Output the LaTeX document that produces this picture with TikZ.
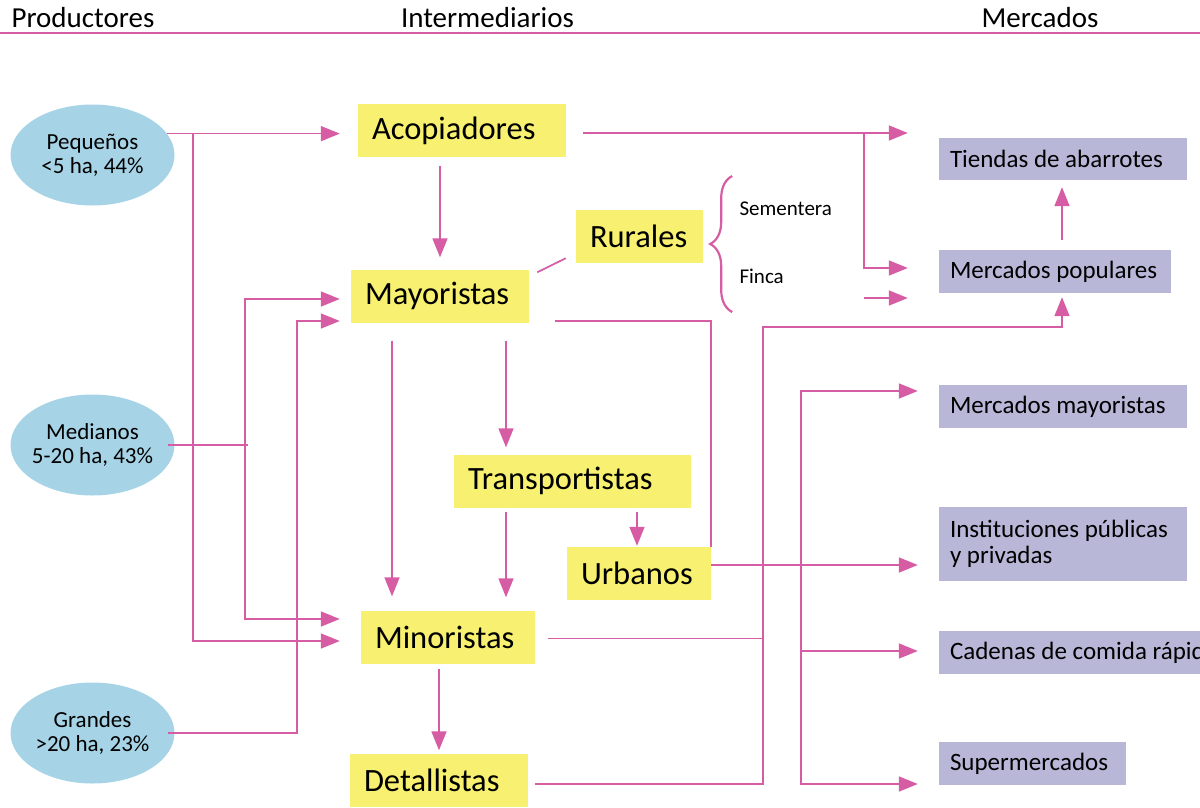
\documentclass[tikz,border=0pt]{standalone}
\usepackage{fontspec}
\setmainfont{Carlito}
\usetikzlibrary{arrows.meta,shapes.geometric,decorations.pathreplacing}
\definecolor{rosa}{RGB}{214,92,163}
\definecolor{amarillo}{RGB}{247,240,112}
\definecolor{lila}{RGB}{185,183,216}
\definecolor{celeste}{RGB}{166,212,230}
\tikzset{
  >={Triangle[length=19pt,width=15pt]},
  link/.style={draw=rosa, line width=1.7pt},
  brc/.style={draw=rosa, line width=2.2pt, decorate, decoration={brace, amplitude=22pt}},
  inter/.style={fill=amarillo, inner xsep=14pt, inner ysep=0pt, minimum height=53pt, align=flush left, font=\fontsize{32.5}{36}\selectfont},
  merc/.style={fill=lila, inner xsep=11pt, inner ysep=0pt, minimum height=43pt, align=flush left, font=\fontsize{25}{26}\selectfont},
  prod/.style={ellipse, fill=celeste, inner xsep=-4pt, inner ysep=0pt, minimum width=164pt, minimum height=101pt, align=center, font=\fontsize{23}{24}\selectfont},
  head/.style={anchor=base, font=\fontsize{29}{32}\selectfont},
  canal/.style={anchor=base west, font=\fontsize{21}{24}\selectfont},
}
\begin{document}
\begin{tikzpicture}[x=1pt,y=-1pt]
\useasboundingbox (0,0) rectangle (1200,807);
% header
\node[head,anchor=base west] (hprod) at (8,27) {Productores};
\node[head] (hint) at (487.5,27) {Intermediarios};
\node[head] (hmerc) at (1040,27) {Mercados};
\draw[rosa,line width=1.3pt] (0,33) -- (1200,33);
% productores
\node[prod] (peq) at (92.5,155) {Pequeños\\<5 ha, 44\%};
\node[prod] (med) at (92.5,445) {Medianos\\5-20 ha, 43\%};
\node[prod] (gra) at (92.5,733) {Grandes\\>20 ha, 23\%};
% intermediarios
\node[inter,text width=180pt] (acop) at (462,130.5) {Acopiadores};
\node[inter,text width=150pt] (mayo) at (440,296) {Mayoristas};
\node[inter,text width=99pt] (rur) at (639.5,236.5) {Rurales};
\node[inter,text width=209pt] (trans) at (572.5,481) {Transportistas};
\node[inter,text width=116pt] (urb) at (639,573.5) {Urbanos};
\node[inter,text width=146pt] (mino) at (448,637) {Minoristas};
\node[inter,text width=150pt] (detal) at (439,780) {Detallistas};
\node[canal] (sem) at (736,215) {Sementera};
\node[canal] (fin) at (736,283) {Finca};
% mercados
\node[merc,text width=226pt,minimum height=42pt] (tiendas) at (1063,159) {Tiendas de abarrotes};
\node[merc,text width=210pt] (mpop) at (1055,271.5) {Mercados populares};
\node[merc,text width=226pt] (mmay) at (1063,406.5) {Mercados mayoristas};
\node[merc,text width=226pt,minimum height=74pt] (inst) at (1063,544) {Instituciones públicas\\y privadas};
\node[merc,text width=282pt] (cad) at (1091,652.5) {Cadenas de comida rápida};
\node[merc,text width=165pt] (super) at (1032.5,763.5) {Supermercados};
% desde productores
\coordinate (jpeq) at (193,133);
\coordinate (jmed) at (245,445);
\coordinate (jgra) at (297,733);
\draw[link,->,shorten >=18pt] (peq.16.5) -- (peq.16.5 -| acop.west);
\draw[link,->,shorten >=21pt] (jpeq) |- ([yshift=-4pt]mino.west);
\draw[link] ([xshift=-7pt]med.east) -- ([xshift=3pt]jmed);
\draw[link,<->,shorten <=21pt,shorten >=11pt] ([yshift=18pt]mino.west) -| (jmed) |- ([yshift=-3pt]mayo.west);
\draw[link,->,shorten >=11pt] ([xshift=-7pt]gra.east) -- (jgra) |- ([yshift=-25pt]mayo.west);
% entre intermediarios
\draw[link,->,shorten <=9pt,shorten >=12pt] (acop.south -| mayo.north) -- (mayo.north);
\draw[link] ([xshift=8pt,yshift=-3pt]mayo.north east) -- ([xshift=-10pt,yshift=5pt]rur.south west);
\draw[link,->,shorten <=18pt,shorten >=14pt] ([xshift=-48pt]mayo.south) -- ([xshift=-48pt]mayo.south |- mino.north);
\draw[link,->,shorten <=18pt,shorten >=7pt] ([xshift=66pt]mayo.south) -- ([xshift=66pt]mayo.south |- trans.north);
\draw[link,->,shorten <=4pt,shorten >=13pt] ([xshift=-66.5pt]trans.south) -- ([xshift=-66.5pt]trans.south |- mino.north);
\draw[link,->,shorten <=4pt,shorten >=1pt] ([xshift=64.5pt]trans.south) -- ([xshift=64.5pt]trans.south |- urb.north);
\draw[link,->,shorten <=5pt,shorten >=3pt] (mino.south -| detal.north) -- (detal.north);
\draw[link,shorten <=26pt] ([yshift=-25pt]mayo.east) -| (urb.north east);
% rurales
\draw[brc] ([xshift=29pt,yshift=-75.5pt]rur.east) -- ([xshift=29pt,yshift=60.5pt]rur.east);
% hacia mercados
\coordinate (jaco) at (864,133);
\coordinate (jmin) at (763,327);
\coordinate (jurb) at (801,500);
\draw[link,->,shorten <=17pt,shorten >=31pt] ([yshift=-2.5pt]acop.east) -- ([yshift=-2.5pt]acop.east -| tiendas.west);
\draw[link,->,shorten >=31pt] (jaco) |- ([yshift=3.5pt]mpop.west);
\draw[link,->,shorten >=31pt] ([yshift=-26.5pt]mpop.west -| jaco) -- ([yshift=-26.5pt]mpop.west);
\draw[link,shorten <=13pt] ([yshift=-1.5pt]mino.east) -- ([yshift=-1.5pt]mino.east -| jmin);
\draw[link,->,shorten <=7pt,shorten >=4pt] ([yshift=-4pt]detal.east) -| (jmin) -| ([xshift=7pt]mpop.south);
\draw[link,->,shorten >=21pt] ([yshift=8.5pt]urb.east) -- ([yshift=-21pt]inst.west);
\draw[link,<->,shorten <=21pt,shorten >=21pt] ([yshift=-20.5pt]super.west) -| (jurb) |- ([yshift=15.5pt]mmay.west);
\draw[link,->,shorten >=21pt] ([yshift=1.5pt]cad.west -| jurb) -- ([yshift=1.5pt]cad.west);
\draw[link,->,shorten <=10pt,shorten >=7pt] ([xshift=7pt]mpop.north) -- ([xshift=7pt]mpop.north |- tiendas.south);
\end{tikzpicture}
\end{document}
